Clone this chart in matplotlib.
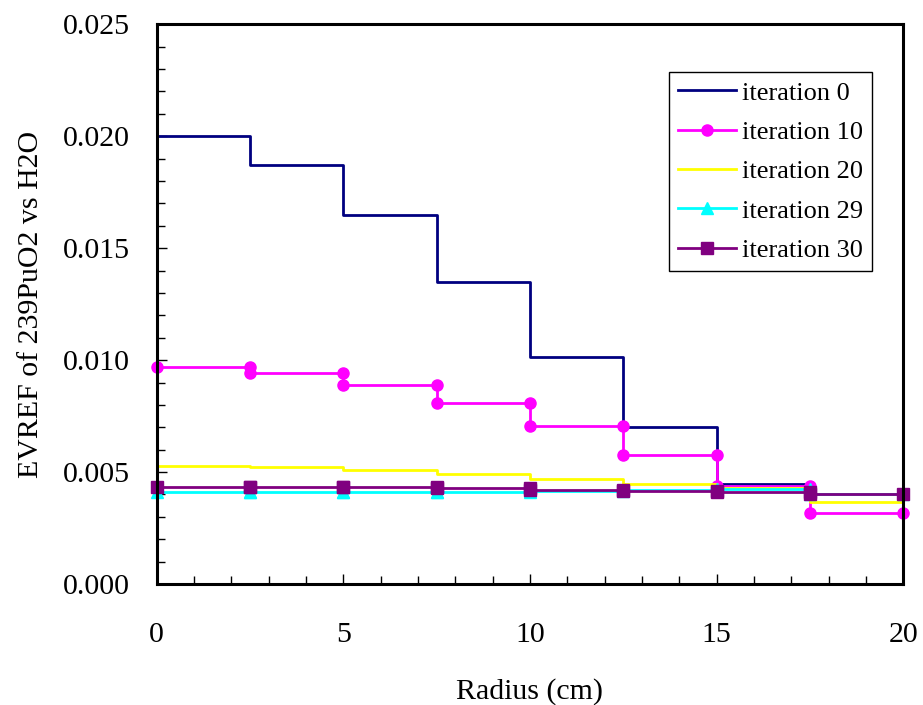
import numpy as np
import matplotlib
matplotlib.use("Agg")
import matplotlib.pyplot as plt
from matplotlib.ticker import MultipleLocator, FormatStrFormatter

plt.rcParams['font.family'] = ['Liberation Serif', 'DejaVu Serif']

# zone edges (cm) and per-zone values for each iteration
edges = [0, 2.5, 5, 7.5, 10, 12.5, 15, 17.5, 20]
it0 = [0.01999, 0.01873, 0.01647, 0.01348, 0.01016, 0.00702, 0.00446, 0.00401]
it10 = [0.00970, 0.00943, 0.00889, 0.00810, 0.00707, 0.00576, 0.00437, 0.00319]
it20 = [0.00529, 0.00523, 0.00511, 0.00492, 0.00470, 0.00446, 0.00431, 0.00368]
it29 = [0.00413, 0.00413, 0.00413, 0.00413, 0.00414, 0.00421, 0.00424, 0.00401]
it30 = [0.00433, 0.00433, 0.00432, 0.00430, 0.00420, 0.00417, 0.00411, 0.00402]


def steps(vals):
    # each zone drawn as a flat segment from its left edge to its right edge
    xs, ys = [], []
    for i, v in enumerate(vals):
        xs += [edges[i], edges[i + 1]]
        ys += [v, v]
    return xs, ys


fig = plt.figure(figsize=(9.23, 7.05), dpi=100)
ax = fig.add_axes([0.1696, 0.1716, 0.8091, 0.7939])

series = [
    ("iteration 0", it0, "#000080", None, 0),
    ("iteration 10", it10, "#FF00FF", "o", 8),
    ("iteration 20", it20, "#FFFF00", None, 0),
    ("iteration 29", it29, "#00FFFF", "^", 8),
    ("iteration 30", it30, "#800080", "s", 8),
]
for label, vals, color, marker, ms in series:
    xs, ys = steps(vals)
    ax.plot(xs, ys, color=color, lw=2, marker=marker, ms=ms,
            label=label, clip_on=False)

ax.set_xlim(0, 20)
ax.set_ylim(0, 0.025)
ax.xaxis.set_major_locator(MultipleLocator(5))
ax.xaxis.set_minor_locator(MultipleLocator(1))
ax.yaxis.set_major_locator(MultipleLocator(0.005))
ax.yaxis.set_minor_locator(MultipleLocator(0.001))
ax.yaxis.set_major_formatter(FormatStrFormatter("%.3f"))

ax.tick_params(which="both", direction="in", top=False, right=False,
               labelsize=21.5, width=1)
ax.tick_params(axis="x", which="major", length=7.5, pad=27)
ax.tick_params(axis="y", which="major", length=7.5, pad=19)
ax.tick_params(which="minor", length=5.5)
for sp in ax.spines.values():
    sp.set_linewidth(2.2)

ax.set_xlabel("Radius (cm)", fontsize=21.5, labelpad=22)
ax.set_ylabel("EVREF of 239PuO2 vs H2O", fontsize=21.5, labelpad=14)

leg = ax.legend(loc="upper right", bbox_to_anchor=(0.958, 0.915),
                borderaxespad=0, fontsize=19, fancybox=False,
                edgecolor="black", framealpha=1, handlelength=2.2,
                handletextpad=0.2, labelspacing=0.6, borderpad=0.35)
leg.get_frame().set_linewidth(1)

plt.savefig("out.png", dpi=100)
